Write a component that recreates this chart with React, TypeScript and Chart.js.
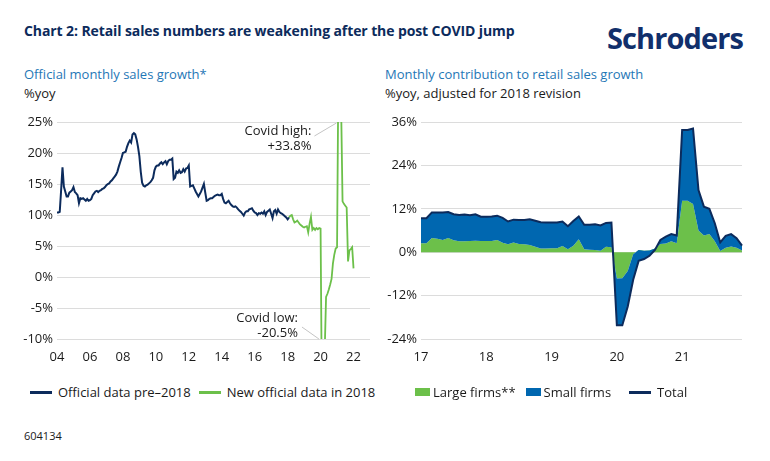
import React, { useEffect, useRef } from "react";
import { Chart, registerables } from "chart.js";

Chart.register(...registerables);

const NAVY = "#0c2b5c";
const GREEN = "#6cc04a";
const BLUE = "#0067b0";
const SUB = "#1f77b6";
const GRID = "#dcdcdc";
const FONT = "'Open Sans', 'Noto Sans', sans-serif";

// ---------- Left chart: official monthly sales growth (%yoy), monthly from Jan 2004 ----------
const leftStartYear = 2004;
const preValues = [
  10.4, 10.4, 10.5, 14.0, 17.7, 14.6, 13.8, 13.0, 13.0, 13.6, 13.8, 14.0,
  14.5, 13.7, 13.5, 13.2, 11.9, 12.7, 12.6, 12.7, 12.5, 12.3, 12.6, 12.3,
  12.4, 12.6, 13.2, 13.5, 13.8, 13.9, 13.7, 13.9, 14.0, 14.2, 14.3, 14.5,
  14.8, 15.0, 15.1, 15.4, 15.6, 15.9, 16.2, 16.5, 17.0, 17.8, 18.5, 19.2,
  20.0, 20.1, 20.2, 21.0, 21.6, 22.0, 21.7, 23.0, 23.2, 23.0, 22.2, 21.0,
  19.5, 17.0, 15.2, 14.7, 14.6, 14.8, 14.9, 15.1, 15.3, 15.6, 16.0, 17.2,
  17.8, 18.0, 18.0, 18.3, 18.5, 18.2, 18.5, 18.7, 18.2, 18.7, 18.9, 18.9,
  19.1, 15.8, 16.0, 17.0, 16.8, 17.2, 16.8, 16.9, 17.4, 17.0, 17.5, 17.6,
  18.0, 14.6, 14.7, 14.8, 14.3, 13.8, 13.4, 13.0, 13.4, 13.8, 14.4, 15.0,
  13.6, 12.3, 12.4, 12.6, 12.7, 12.7, 12.9, 13.1, 13.2, 13.3, 13.2, 13.2,
  13.4, 12.6, 12.0, 11.9, 12.1, 12.3, 11.9, 11.6, 11.4, 11.3, 11.4, 11.2,
  10.9, 10.7, 10.5, 10.2, 9.9, 10.4, 10.6, 10.6, 10.9, 11.0, 11.1, 10.7,
  10.4, 10.3, 10.0, 10.3, 10.2, 10.4, 10.2, 10.6, 10.0, 10.5, 10.7, 10.9,
  10.2, 9.5, 10.6, 10.8, 10.2, 10.9, 10.5, 10.3, 10.2, 10.0, 9.8, 9.6,
  9.3, 9.6,
];
const newStartIndex = 169; // month index (from Jan 2004) of first "new official data" point
const newValues = [
  9.6, 9.9, 10.0, 9.3, 8.8, 8.9, 9.1, 8.8, 8.5, 8.3, 8.1, 8.0,
  8.1, 8.2, 7.2, 8.6, 9.7, 7.6, 7.9, 7.6, 7.9, 7.7, 7.9, 7.8,
  -20.5, -19.0, -12.0, -3.2, -2.7, -2.0, -1.2, -0.3, 2.2, 3.6, 4.6, 4.8,
  33.8, 30.0, 27.0, 12.2, 11.8, 11.5, 11.2, 2.5, 4.3, 4.5, 4.8, 1.4,
];
const covidHighIndex = 205;
const covidLowIndex = 193;
const leftXTicks = [2004, 2006, 2008, 2010, 2012, 2014, 2016, 2018, 2020, 2022];

// ---------- Right chart: monthly contribution to retail sales growth ----------
const rightYears = [2017, 2018, 2019, 2020, 2021];
const largeFirms = [
  2.5, 2.5, 3.9, 3.7, 3.4, 3.9, 3.3, 3.0, 3.0, 3.1, 3.2, 3.1,
  3.1, 3.1, 3.4, 2.6, 2.2, 2.7, 2.3, 2.2, 2.0, 1.5, 1.0, 1.0,
  1.1, 1.1, 1.7, 0.8, 1.8, 3.6, 0.8, 0.7, 0.6, 0.4, 1.5, 1.4,
  -7.3, -7.2, -5.2, -0.6, 0.6, 0.4, 0.5, 1.0, 2.3, 2.4, 3.0, 2.5,
  14.2, 14.2, 13.3, 6.0, 4.6, 5.0, 3.0, 0.3, 1.2, 1.6, 1.2, 0.5,
];
const smallFirms = [
  6.9, 6.9, 7.1, 7.3, 7.6, 7.2, 7.2, 7.3, 7.4, 7.1, 7.3, 6.7,
  6.7, 6.8, 6.7, 6.9, 6.3, 6.3, 6.6, 6.7, 7.1, 7.2, 7.3, 7.2,
  7.1, 7.1, 6.8, 6.4, 6.8, 6.3, 6.8, 6.9, 7.1, 7.0, 6.6, 6.8,
  -12.9, -13.0, -9.8, -7.0, -3.0, -2.3, -1.5, -0.4, 1.1, 1.9, 2.0, 2.1,
  19.6, 19.6, 20.9, 11.2, 8.0, 7.0, 5.0, 2.4, 3.3, 3.4, 2.7, 1.3,
];

const tickFont = { family: FONT, size: 13 };
const tickColor = "#1a1a1a";

const covidPlugin = {
  id: "covidNotes",
  afterDatasetsDraw(chart: any) {
    const { ctx, chartArea, scales } = chart;
    const xs = scales.x;
    const hx = xs.getPixelForValue(leftStartYear + covidHighIndex / 12);
    const lx = xs.getPixelForValue(leftStartYear + covidLowIndex / 12);
    const hiVal = newValues[covidHighIndex - newStartIndex];
    const loVal = newValues[covidLowIndex - newStartIndex];
    ctx.save();
    ctx.strokeStyle = "#c4c4c4";
    ctx.lineWidth = 1;
    ctx.beginPath();
    ctx.moveTo(hx - 24, chartArea.top + 14);
    ctx.lineTo(hx - 2, chartArea.top + 1);
    ctx.moveTo(lx - 20, chartArea.bottom - 12);
    ctx.lineTo(lx - 3, chartArea.bottom);
    ctx.stroke();
    ctx.fillStyle = "#1a1a1a";
    ctx.font = `13px ${FONT}`;
    ctx.textAlign = "right";
    ctx.textBaseline = "middle";
    ctx.fillText("Covid high:", hx - 27, chartArea.top + 9);
    ctx.fillText(`+${hiVal.toFixed(1)}%`, hx - 27, chartArea.top + 24);
    ctx.fillText("Covid low:", lx - 24, chartArea.bottom - 21);
    ctx.fillText(`${loVal.toFixed(1)}%`, lx - 24, chartArea.bottom - 6);
    ctx.restore();
  },
};

function LeftChart() {
  const ref = useRef<HTMLCanvasElement>(null);
  useEffect(() => {
    const preData = preValues.map((v, i) => ({ x: leftStartYear + i / 12, y: v }));
    const newData = newValues.map((v, i) => ({ x: leftStartYear + (newStartIndex + i) / 12, y: v }));
    const chart = new Chart(ref.current as HTMLCanvasElement, {
      type: "line",
      data: {
        datasets: [
          { label: "Official data pre–2018", data: preData, borderColor: NAVY, borderWidth: 2, pointRadius: 0, tension: 0, fill: false },
          { label: "New official data in 2018", data: newData, borderColor: GREEN, borderWidth: 1.8, pointRadius: 0, tension: 0, fill: false },
        ],
      },
      options: {
        animation: false,
        responsive: false,
        layout: { padding: { top: 17, right: 10, left: 0, bottom: 0 } },
        plugins: { legend: { display: false }, tooltip: { enabled: false } },
        scales: {
          x: {
            type: "linear",
            min: 2004,
            max: 2023,
            grid: { display: false },
            border: { display: false },
            afterBuildTicks: (s: any) => { s.ticks = leftXTicks.map((v) => ({ value: v })); },
            afterFit: (s: any) => { s.height = 31; },
            ticks: { autoSkip: false, maxRotation: 0, padding: 2, font: tickFont, color: tickColor, callback: (v: any) => String(v).slice(2) },
          },
          y: {
            min: -10,
            max: 25,
            afterFit: (s: any) => { s.width = 57; },
            grid: { color: GRID, drawTicks: false, lineWidth: 1 },
            border: { display: false },
            ticks: { stepSize: 5, padding: 4, font: tickFont, color: tickColor, callback: (v: any) => `${v}%` },
          },
        },
      } as any,
      plugins: [covidPlugin],
    });
    return () => chart.destroy();
  }, []);
  return <canvas ref={ref} width={380} height={265} style={{ width: 380, height: 265, display: "block" }} />;
}

function RightChart() {
  const ref = useRef<HTMLCanvasElement>(null);
  useEffect(() => {
    const labels: string[] = [];
    rightYears.forEach((y) => { for (let m = 1; m <= 12; m++) labels.push(`${y}-${m}`); });
    const total = largeFirms.map((v, i) => v + smallFirms[i]);
    const chart = new Chart(ref.current as HTMLCanvasElement, {
      type: "line",
      data: {
        labels,
        datasets: [
          { label: "Large firms**", data: largeFirms, borderWidth: 0, borderColor: GREEN, backgroundColor: GREEN, fill: "origin", pointRadius: 0, tension: 0, order: 2 },
          { label: "Small firms", data: total, borderWidth: 0, borderColor: BLUE, backgroundColor: BLUE, fill: "-1", pointRadius: 0, tension: 0, order: 1 },
          { label: "Total", data: total, borderWidth: 2, borderColor: NAVY, fill: false, pointRadius: 0, tension: 0, order: 0 },
        ],
      },
      options: {
        animation: false,
        responsive: false,
        layout: { padding: { top: 17, right: 18, left: 0, bottom: 0 } },
        plugins: { legend: { display: false }, tooltip: { enabled: false } },
        scales: {
          x: {
            grid: { display: false },
            border: { display: false },
            afterFit: (s: any) => { s.height = 31; },
            ticks: {
              autoSkip: false, maxRotation: 0, padding: 2, font: tickFont, color: tickColor,
              callback: (_v: any, i: number) => (i % 12 === 0 ? String(rightYears[i / 12]).slice(2) : ""),
            },
          },
          y: {
            min: -24,
            max: 36,
            afterFit: (s: any) => { s.width = 51; },
            grid: { color: GRID, drawTicks: false, lineWidth: 1 },
            border: { display: false },
            ticks: { stepSize: 12, padding: 4, font: tickFont, color: tickColor, callback: (v: any) => `${v}%` },
          },
        },
      } as any,
    });
    return () => chart.destroy();
  }, []);
  return <canvas ref={ref} width={390} height={265} style={{ width: 390, height: 265, display: "block" }} />;
}

const lineSwatch = (color: string) => (
  <span style={{ display: "inline-block", width: 22, height: 3, background: color, marginRight: 6, verticalAlign: "middle" }} />
);
const boxSwatch = (color: string) => (
  <span style={{ display: "inline-block", width: 15, height: 8, background: color, marginRight: 3, verticalAlign: "middle" }} />
);

export default function App() {
  const abs = (left: number, top: number, extra: React.CSSProperties = {}): React.CSSProperties => ({
    position: "absolute", left, top, whiteSpace: "nowrap", ...extra,
  });
  return (
    <div style={{ position: "absolute", left: 0, top: 0, width: 770, height: 461, background: "#fff", fontFamily: FONT, color: "#1a1a1a", overflow: "hidden" }}>
      <div style={abs(24, 21, { fontSize: 14, fontWeight: 700, color: NAVY, letterSpacing: -0.1 })}>
        Chart 2: Retail sales numbers are weakening after the post COVID jump
      </div>
      <div style={abs(607, 18, { fontSize: 29, fontWeight: 700, color: "#112f6b", letterSpacing: -0.9 })}>Schroders</div>

      <div style={abs(24, 65, { fontSize: 13, color: SUB })}>Official monthly sales growth*</div>
      <div style={abs(24, 84, { fontSize: 13 })}>%yoy</div>
      <div style={abs(385, 65, { fontSize: 13, color: SUB })}>Monthly contribution to retail sales growth</div>
      <div style={abs(385, 84, { fontSize: 13 })}>%yoy, adjusted for 2018 revision</div>

      <div style={abs(0, 105)}><LeftChart /></div>
      <div style={abs(370, 105)}><RightChart /></div>

      <div style={abs(30, 383, { fontSize: 13, display: "flex", alignItems: "center" })}>
        {lineSwatch(NAVY)}<span style={{ marginRight: 8 }}>Official data pre–2018</span>
        {lineSwatch(GREEN)}<span>New official data in 2018</span>
      </div>
      <div style={abs(415, 383, { fontSize: 13, display: "flex", alignItems: "center" })}>
        {boxSwatch(GREEN)}<span style={{ marginRight: 10 }}>Large firms**</span>
        {boxSwatch(BLUE)}<span style={{ marginRight: 18 }}>Small firms</span>
        {lineSwatch(NAVY)}<span>Total</span>
      </div>

      <div style={abs(24, 428, { fontSize: 11 })}>604134</div>
    </div>
  );
}
